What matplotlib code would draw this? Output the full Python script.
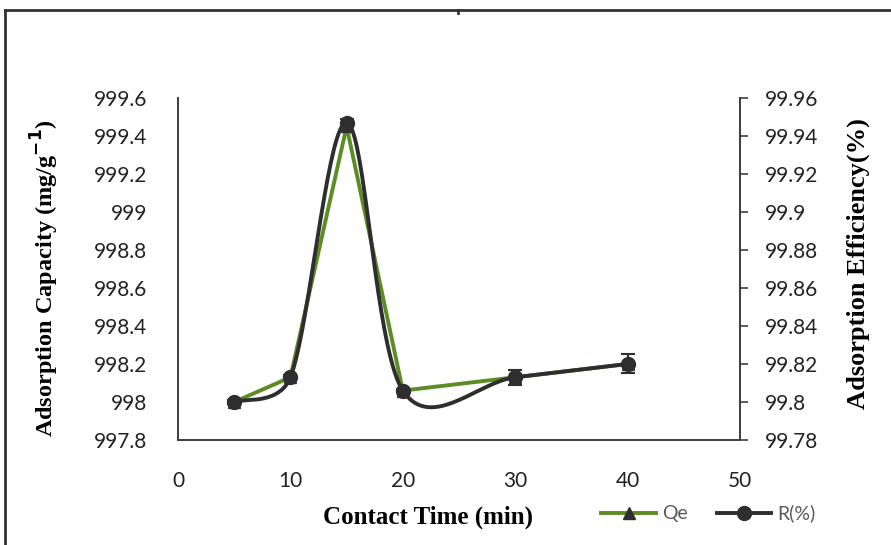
import numpy as np
import matplotlib
matplotlib.use("Agg")
import matplotlib.pyplot as plt
from matplotlib.lines import Line2D

# ---- data ----
time_min = [5, 10, 15, 20, 30, 40]
qe = [998.0, 998.13, 999.45, 998.06, 998.13, 998.2]
r_pct = [99.800, 99.813, 99.947, 99.806, 99.813, 99.820]
r_err = [0.001, 0.001, 0.002, 0.001, 0.004, 0.005]
left_ticks = [997.8, 998, 998.2, 998.4, 998.6, 998.8, 999, 999.2, 999.4, 999.6]
left_labels = ["997.8", "998", "998.2", "998.4", "998.6", "998.8", "999", "999.2", "999.4", "999.6"]
right_ticks = [99.78, 99.8, 99.82, 99.84, 99.86, 99.88, 99.9, 99.92, 99.94, 99.96]
right_labels = ["99.78", "99.8", "99.82", "99.84", "99.86", "99.88", "99.9", "99.92", "99.94", "99.96"]
x_ticks = [0, 10, 20, 30, 40, 50]

GREEN = "#5e8c24"
DARK = "#2e2e2e"
TICKFONT = "Lato"
LABELFONT = "Liberation Serif"

fig = plt.figure(figsize=(8.91, 5.45), dpi=100)
ax = fig.add_axes([0.1998, 0.1927, 0.6307, 0.6275])
ax2 = ax.twinx()

ax.set_xlim(0, 50)
ax.set_ylim(997.8, 999.6)
ax2.set_ylim(99.78, 99.96)


def excel_smooth(x, y, ax_obj, n=40):
    # Bezier smoothing in display space (Excel-like, tension 1/6, clamped)
    pts = ax_obj.transData.transform(np.column_stack([x, y]))
    m = len(pts)
    out = []
    for i in range(m - 1):
        p0 = pts[i - 1] if i > 0 else pts[i]
        p1 = pts[i]
        p2 = pts[i + 1]
        p3 = pts[i + 2] if i + 2 < m else pts[i + 1]
        d12 = np.linalg.norm(p2 - p1)
        d02 = np.linalg.norm(p2 - p0)
        d13 = np.linalg.norm(p3 - p1)
        f1 = 1 / 6.0
        f2 = 1 / 6.0
        if d02 > 0 and d02 / 6.0 > d12 / 2.0:
            f1 = d12 / 2.0 / d02
        if d13 > 0 and d13 / 6.0 > d12 / 2.0:
            f2 = d12 / 2.0 / d13
        c1 = p1 + (p2 - p0) * f1
        c2 = p2 - (p3 - p1) * f2
        t = np.linspace(0, 1, n)[:, None]
        seg = ((1 - t) ** 3) * p1 + 3 * ((1 - t) ** 2) * t * c1 + 3 * (1 - t) * t ** 2 * c2 + t ** 3 * p2
        if i > 0:
            seg = seg[1:]
        out.append(seg)
    out = np.vstack(out)
    data = ax_obj.transData.inverted().transform(out)
    return data[:, 0], data[:, 1]


# Qe series (straight lines, triangles)
ax.plot(time_min, qe, color=GREEN, lw=2.8, zorder=2)
ax.plot(time_min, qe, linestyle="none", marker="^", color=DARK, markersize=9, zorder=3)

# R series (smoothed, circles, error bars)
fig.canvas.draw()
sx, sy = excel_smooth(time_min, r_pct, ax2)
ax2.plot(sx, sy, color=DARK, lw=2.8, zorder=4)
ax2.errorbar(time_min, r_pct, yerr=r_err, fmt="o", color=DARK, markersize=10,
             ecolor=DARK, elinewidth=1.5, capsize=5, capthick=1.5, zorder=5)

# axes styling
for a in (ax, ax2):
    a.spines["top"].set_visible(False)
    for s in a.spines.values():
        s.set_color("#404040")
        s.set_linewidth(1.3)

ax.set_xticks(x_ticks)
ax.set_xticklabels([str(v) for v in x_ticks], fontsize=15, fontfamily=TICKFONT, color="#222222")
ax.tick_params(axis="x", length=0, pad=22)
ax.set_yticks(left_ticks)
ax.set_yticklabels(left_labels, fontsize=15, fontfamily=TICKFONT, color="#222222")
ax.tick_params(axis="y", length=0, pad=22)

ax2.set_yticks(right_ticks)
ax2.set_yticklabels(right_labels, fontsize=15, fontfamily=TICKFONT, color="#222222")
ax2.tick_params(axis="y", direction="out", length=6, width=1.2, color="#404040", pad=12)

fig.text(0.480, 0.050, "Contact Time (min)", ha="center", va="center",
         fontsize=18, fontweight="bold", fontfamily=LABELFONT)
fig.text(0.050, 0.490, "Adsorption Capacity (mg/g$^{\\mathbf{-1}}$)", rotation=90, ha="center", va="center",
         fontsize=17.5, fontweight="bold", fontfamily=LABELFONT)
fig.text(0.963, 0.517, "Adsorption Efficiency(%)", rotation=90, ha="center", va="center",
         fontsize=19, fontweight="bold", fontfamily=LABELFONT)

# legend
handles = [
    Line2D([0], [0], color=GREEN, lw=2.8, marker="^", markersize=9, markerfacecolor=DARK, markeredgecolor=DARK),
    Line2D([0], [0], color=DARK, lw=2.8, marker="o", markersize=10, markerfacecolor=DARK, markeredgecolor=DARK),
]
leg = fig.legend(handles, ["Qe", "R(%)"], loc="center", bbox_to_anchor=(0.795, 0.058), ncol=2,
                 frameon=False, handlelength=2.8, columnspacing=1.5, handletextpad=0.3,
                 prop={"family": TICKFONT, "size": 14})
for t in leg.get_texts():
    t.set_color("#595959")

# figure frame (top and left border)
fig.add_artist(Line2D([0.006, 1.0], [0.982, 0.982], transform=fig.transFigure, color="#333333", lw=2))
fig.add_artist(Line2D([0.006, 0.006], [0.0, 0.982], transform=fig.transFigure, color="#333333", lw=2))
fig.add_artist(Line2D([0.5140, 0.5140], [0.982, 0.976], transform=fig.transFigure, color="#333333", lw=2))

fig.savefig("out.png", dpi=100)
